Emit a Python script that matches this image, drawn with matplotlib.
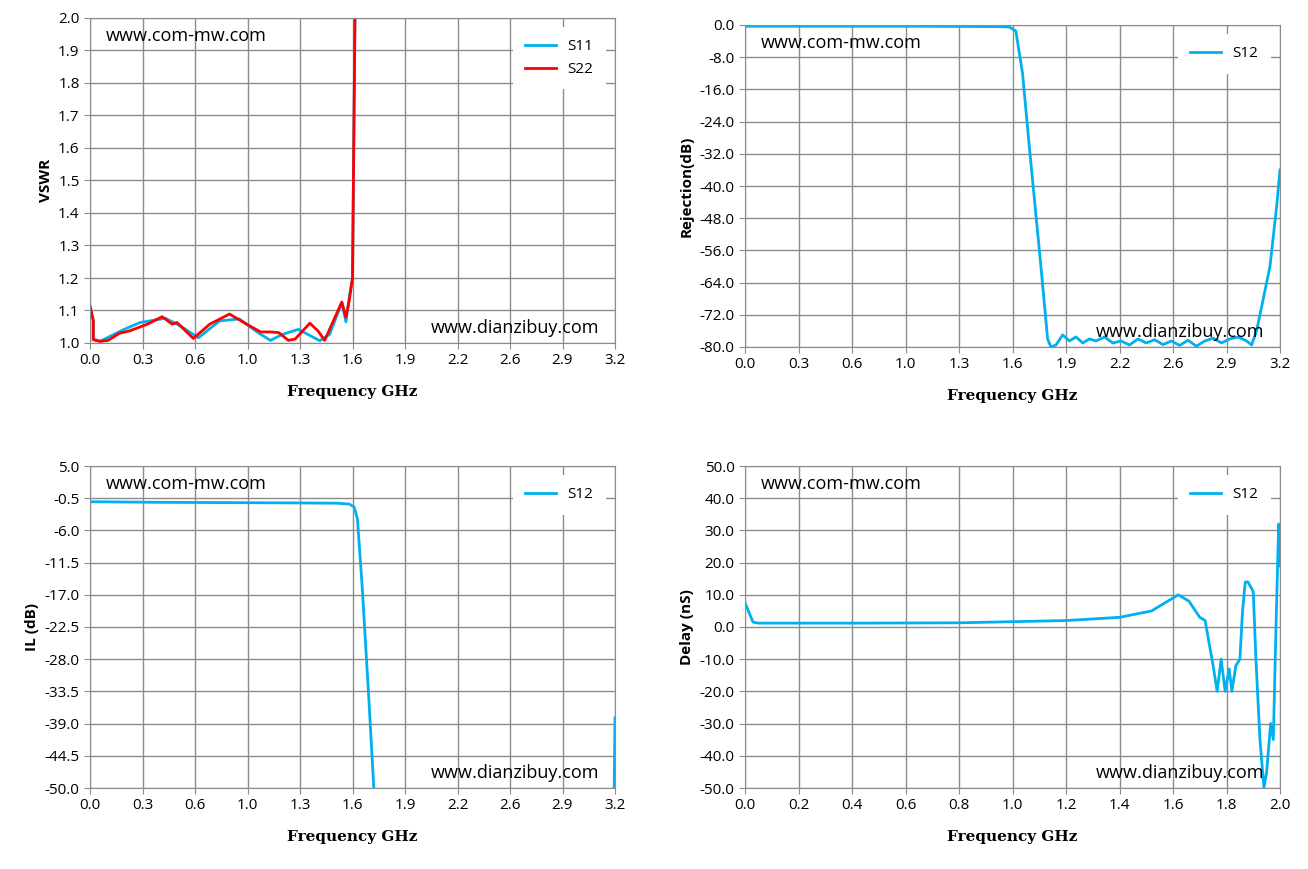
import matplotlib
matplotlib.use('Agg')
import matplotlib.pyplot as plt
import numpy as np

# VSWR
s11_f = [0.0, 0.02, 0.02, 0.06, 0.12, 0.2, 0.305, 0.46, 0.55, 0.66, 0.79, 0.91, 1.03, 1.10, 1.17, 1.27, 1.40, 1.46, 1.535, 1.56, 1.58, 1.60, 1.615]
s11_v = [1.105, 1.07, 1.012, 1.005, 1.02, 1.04, 1.063, 1.076, 1.053, 1.016, 1.068, 1.074, 1.03, 1.008, 1.026, 1.042, 1.007, 1.026, 1.124, 1.065, 1.14, 1.2, 2.0]
s22_f = [0.0, 0.02, 0.02, 0.06, 0.11, 0.18, 0.24, 0.35, 0.44, 0.50, 0.53, 0.63, 0.73, 0.85, 0.955, 1.04, 1.10, 1.15, 1.21, 1.25, 1.34, 1.39, 1.43, 1.535, 1.56, 1.58, 1.60, 1.615]
s22_v = [1.115, 1.07, 1.01, 1.005, 1.008, 1.03, 1.037, 1.058, 1.081, 1.058, 1.063, 1.014, 1.058, 1.089, 1.058, 1.034, 1.034, 1.032, 1.008, 1.012, 1.061, 1.037, 1.008, 1.126, 1.079, 1.13, 1.2, 2.0]

# Rejection
rej_f = [0.0, 0.5, 1.0, 1.5, 1.58, 1.62, 1.66, 1.70, 1.77, 1.81, 1.83, 1.86, 1.9, 1.94, 1.98, 2.02, 2.06, 2.1, 2.15, 2.2, 2.25, 2.3, 2.35, 2.4, 2.45, 2.5, 2.55, 2.6, 2.65, 2.7, 2.75, 2.8, 2.85, 2.9, 2.95, 3.0, 3.03, 3.06, 3.09, 3.14, 3.18, 3.2]
rej_db = [-0.3, -0.3, -0.3, -0.4, -0.5, -1.5, -12, -30, -60, -78, -80, -79.5, -77, -78.5, -77.5, -79, -78, -78.5, -77.5, -79, -78.5, -79.5, -78, -79, -78.2, -79.4, -78.5, -79.6, -78.3, -79.8, -78.5, -77.8, -79, -78, -77.5, -78.5, -79.5, -76, -70, -60, -45, -36]

# Insertion loss
il_f = [0.0, 0.4, 0.8, 1.2, 1.5, 1.58, 1.61, 1.63, 1.66, 1.70, 1.73]
il_db = [-1.1, -1.2, -1.25, -1.3, -1.35, -1.5, -2.0, -4.0, -16, -35, -50]
il2_f = [3.195, 3.2]
il2_db = [-50, -38]

# Delay
dl_f = [0.0, 0.03, 0.05, 0.4, 0.8, 1.2, 1.4, 1.52, 1.58, 1.62, 1.66, 1.70, 1.72, 1.735, 1.75, 1.765, 1.78, 1.795, 1.81, 1.82, 1.835, 1.85, 1.86, 1.87, 1.88, 1.9, 1.91, 1.925, 1.94, 1.95, 1.965, 1.975, 1.985, 1.995, 2.0]
dl_ns = [7.5, 1.5, 1.2, 1.2, 1.3, 2.0, 3.0, 5.0, 8.0, 10.0, 8.0, 3.0, 2.0, -5, -12, -20, -10, -20, -13, -20, -12, -10, 5, 14, 14, 11, -10, -35, -50, -45, -30, -35, 0, 32, 19]

blue = '#00B0F0'
plt.rcParams['font.family'] = ['Open Sans', 'DejaVu Sans']
fig = plt.figure(figsize=(13.08, 8.69), dpi=100)

def setup(ax, xt, xl, yt, yfmt, ylabel):
    ax.set_xlim(xt[0], xt[-1])
    ax.set_ylim(yt[0], yt[-1])
    ax.set_xticks(xt)
    ax.set_xticklabels(xl, fontsize=11)
    ax.set_yticks(yt)
    ax.set_yticklabels([yfmt % v for v in yt], fontsize=11)
    ax.grid(True, color='#8c8c8c', lw=1)
    for s in ax.spines.values():
        s.set_color('#8c8c8c')
    ax.tick_params(length=4, color='#8c8c8c')
    ax.set_xlabel('Frequency GHz', fontsize=11, fontweight='bold', family='DejaVu Serif', labelpad=12)
    ax.set_ylabel(ylabel, fontsize=11, fontweight='bold')
    ax.text(0.03, 0.93, 'www.com-mw.com', transform=ax.transAxes, fontsize=13)
    ax.text(0.97, 0.03, 'www.dianzibuy.com', transform=ax.transAxes, fontsize=13, ha='right')

x32 = np.linspace(0, 3.2, 11)
lab32 = ['%.1f' % v for v in x32]

ax1 = fig.add_axes([90/1308, 1-343/869, 525/1308, 325/869])
ax1.plot(s11_f, s11_v, color=blue, lw=2, label='S11')
ax1.plot(s22_f, s22_v, color='red', lw=2, label='S22')
setup(ax1, x32, lab32, np.linspace(1.0, 2.0, 11), '%.1f', 'VSWR')

ax2 = fig.add_axes([745/1308, 1-347/869, 535/1308, 322/869])
ax2.plot(rej_f, rej_db, color=blue, lw=2, label='S12')
setup(ax2, x32, lab32, np.linspace(-80, 0, 11), '%.1f', 'Rejection(dB)')

ax3 = fig.add_axes([90/1308, 1-788/869, 525/1308, 322/869])
ax3.plot(il_f, il_db, color=blue, lw=2, label='S12')
ax3.plot(il2_f, il2_db, color=blue, lw=2)
setup(ax3, x32, lab32, np.linspace(-50, 5, 11), '%.1f', 'IL (dB)')

ax4 = fig.add_axes([745/1308, 1-788/869, 535/1308, 322/869])
ax4.plot(dl_f, dl_ns, color=blue, lw=2, label='S12')
setup(ax4, np.linspace(0, 2, 11), ['%.1f' % v for v in np.linspace(0, 2, 11)],
      np.linspace(-50, 50, 11), '%.1f', 'Delay (nS)')

for ax in [ax1, ax2, ax3, ax4]:
    lg = ax.legend(loc='upper right', fontsize=11, fancybox=False, framealpha=1,
                   edgecolor='none', borderaxespad=0.6, borderpad=0.8)

fig.savefig('out.png')
